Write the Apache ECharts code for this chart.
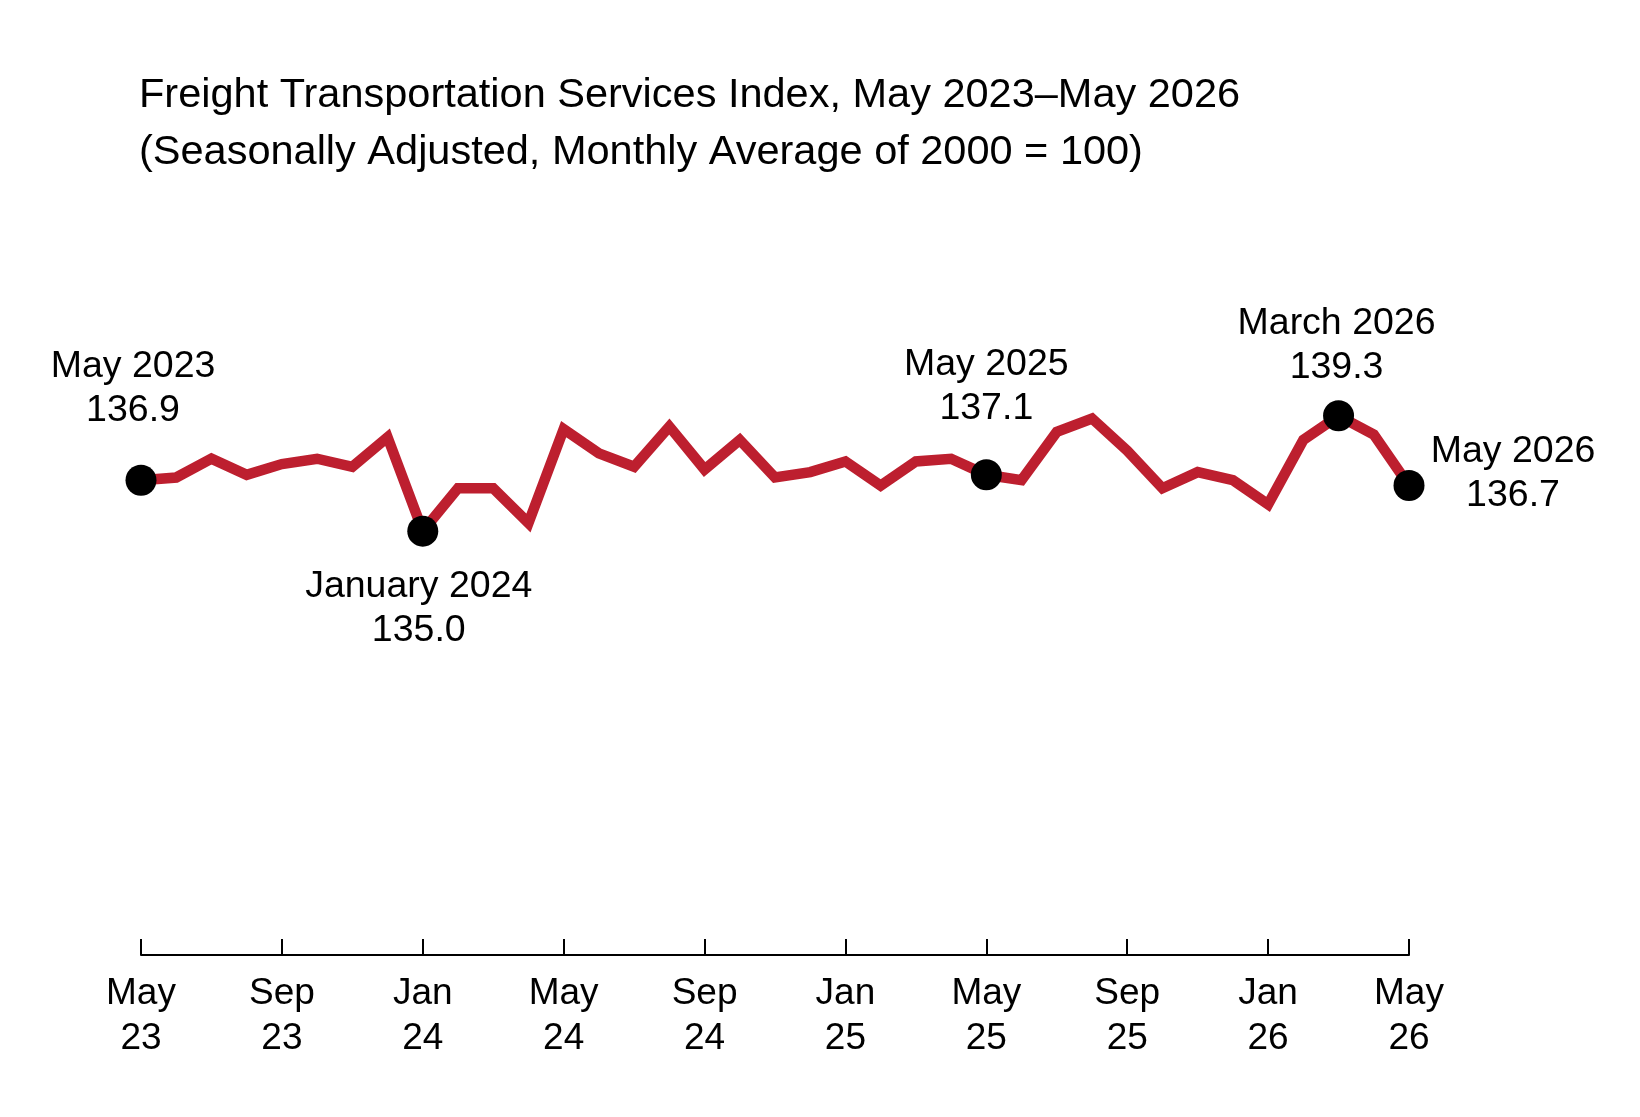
<!DOCTYPE html>
<html>
<head>
<meta charset="utf-8">
<title>Freight Transportation Services Index</title>
<script src="https://cdn.jsdelivr.net/npm/echarts@6/dist/echarts.min.js"></script>
<style>
  html, body { margin: 0; padding: 0; background: #fff; }
  #chart { width: 1640px; height: 1117px; }
</style>
</head>
<body>
<div id="chart"></div>
<script>
// monthly categories, May 2023 - May 2026
const months = [
  "May 2023", "Jun 2023", "Jul 2023", "Aug 2023", "Sep 2023", "Oct 2023", "Nov 2023", "Dec 2023",
  "Jan 2024", "Feb 2024", "Mar 2024", "Apr 2024", "May 2024", "Jun 2024", "Jul 2024", "Aug 2024",
  "Sep 2024", "Oct 2024", "Nov 2024", "Dec 2024", "Jan 2025", "Feb 2025", "Mar 2025", "Apr 2025",
  "May 2025", "Jun 2025", "Jul 2025", "Aug 2025", "Sep 2025", "Oct 2025", "Nov 2025", "Dec 2025",
  "Jan 2026", "Feb 2026", "Mar 2026", "Apr 2026", "May 2026"
];

// index values (2000 = 100)
const tsiValues = [
  136.9, 137.0, 137.7, 137.1, 137.5, 137.7, 137.4, 138.5,
  135.0, 136.6, 136.6, 135.3, 138.8, 137.9, 137.4, 138.9,
  137.3, 138.4, 137.0, 137.2, 137.6, 136.7, 137.6, 137.7,
  137.1, 136.9, 138.7, 139.2, 138.0, 136.6, 137.2, 136.9,
  136.0, 138.4, 139.3, 138.6, 136.7
];

// highlighted points
const calloutIdx = [0, 8, 24, 34, 36];
const calloutNames = ["May 2023", "January 2024", "May 2025", "March 2026", "May 2026"];

// label placement relative to each marker (layout only)
const calloutOffsets = [[-8, -92], [-4, 78], [0, -88], [-2, -70], [104, -12]];

const FONT = "'Liberation Sans', Arial, Helvetica, sans-serif";
const RED = "#BD1F2F";

const chart = echarts.init(document.getElementById("chart"));

chart.setOption({
  backgroundColor: "#fff",
  animation: false,
  title: {
    text: "Freight Transportation Services Index, May 2023\u2013May 2026\n(Seasonally Adjusted, Monthly Average of 2000 = 100)",
    left: 134,
    top: 62,
    textStyle: {
      fontFamily: FONT,
      fontSize: 41.5,
      fontWeight: "normal",
      color: "#000",
      lineHeight: 57
    }
  },
  grid: {
    left: 141,
    width: 1268,
    top: 338,
    height: 617
  },
  xAxis: {
    type: "category",
    data: months,
    boundaryGap: false,
    axisLine: { lineStyle: { color: "#000", width: 2 } },
    axisTick: { inside: true, length: 16, interval: 3, lineStyle: { color: "#000", width: 2 } },
    axisLabel: {
      interval: 3,
      margin: 16,
      fontFamily: FONT,
      fontSize: 37,
      lineHeight: 45,
      color: "#000",
      formatter: function (v) {
        const parts = v.split(" ");
        return parts[0] + "\n" + parts[1].slice(2);
      }
    }
  },
  yAxis: {
    type: "value",
    min: 119.2,
    max: 142.2,
    show: false
  },
  series: [
    {
      type: "line",
      data: tsiValues,
      symbol: "none",
      lineStyle: { color: RED, width: 10.5, join: "miter" },
      z: 2
    },
    {
      type: "scatter",
      data: calloutIdx.map(function (i, k) {
        return {
          value: [i, tsiValues[i]],
          label: { offset: calloutOffsets[k] }
        };
      }),
      symbol: "circle",
      symbolSize: 31,
      itemStyle: { color: "#000", opacity: 1 },
      label: {
        show: true,
        position: "inside",
        align: "center",
        verticalAlign: "middle",
        fontFamily: FONT,
        fontSize: 37.5,
        lineHeight: 44,
        color: "#000",
        opacity: 1,
        formatter: function (p) {
          return calloutNames[p.dataIndex] + "\n" + tsiValues[calloutIdx[p.dataIndex]].toFixed(1);
        }
      },
      z: 3
    }
  ]
});
</script>
</body>
</html>
